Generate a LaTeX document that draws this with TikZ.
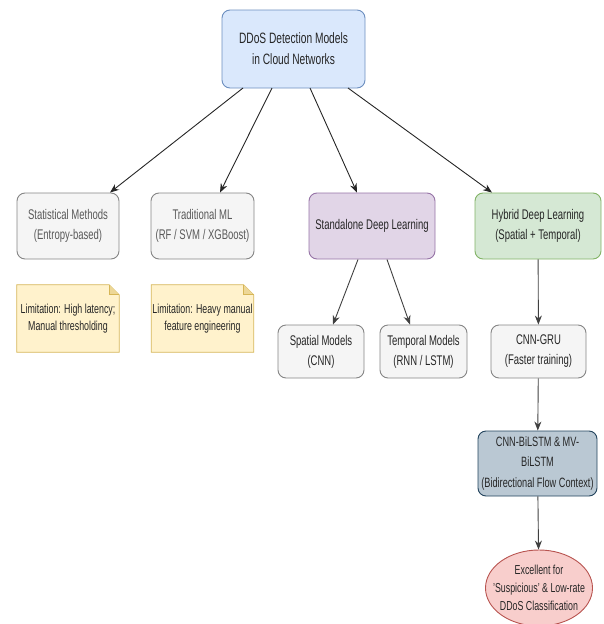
\documentclass[tikz,border=0pt]{standalone}
\usepackage{fontspec}
\setmainfont{Liberation Sans}[FakeStretch=0.68]
\usetikzlibrary{arrows.meta,shapes.geometric}
\definecolor{bluefill}{HTML}{DAE8FC}\definecolor{bluedraw}{HTML}{6C8EBF}
\definecolor{grayfill}{HTML}{F5F5F5}\definecolor{graydraw}{HTML}{666666}
\definecolor{purpfill}{HTML}{E1D5E7}\definecolor{purpdraw}{HTML}{9673A6}
\definecolor{greenfill}{HTML}{D5E8D4}\definecolor{greendraw}{HTML}{82B366}
\definecolor{notefill}{HTML}{FFF2CC}\definecolor{notedraw}{HTML}{D6B656}
\definecolor{steelfill}{HTML}{BAC8D3}\definecolor{steeldraw}{HTML}{23445D}
\definecolor{redfill}{HTML}{F8CECC}\definecolor{reddraw}{HTML}{B85450}
\begin{document}
\begin{tikzpicture}[x=1pt,y=-1pt,
  box/.style={rectangle,rounded corners=8pt,draw,line width=0.9pt,align=center,inner sep=1pt,font=\fontsize{14}{20}\selectfont,text=black!85},
  graybox/.style={box,fill=grayfill,draw=graydraw!80},
  notebox/.style={align=center,inner sep=0pt,font=\fontsize{13}{16.5}\selectfont,text=black!85,minimum width=102pt,minimum height=67pt},
  arr/.style={-{Stealth[length=9pt,width=7pt]},line width=0.9pt,draw=black!85}
]
\useasboundingbox (0,0) rectangle (603,624);

\node[box,fill=bluefill,draw=bluedraw,minimum width=143pt,minimum height=78pt,font=\fontsize{15}{21}\selectfont] (root) at (293.5,49) {DDoS Detection Models\\in Cloud Networks};

\node[graybox,minimum width=102pt,minimum height=66pt,text=black!65] (stat) at (68,226) {Statistical Methods\\(Entropy-based)};
\node[graybox,minimum width=103pt,minimum height=66pt,text=black!65] (trad) at (202.5,226) {Traditional ML\\(RF / SVM / XGBoost)};
\node[box,fill=purpfill,draw=purpdraw,minimum width=126pt,minimum height=66pt] (stand) at (372,226) {Standalone Deep Learning};
\node[box,fill=greenfill,draw=greendraw,minimum width=126pt,minimum height=66pt] (hyb) at (538,226) {Hybrid Deep Learning\\(Spatial + Temporal)};

% notes
\node[notebox] (lim1) at (68,318.5) {};
\node[notebox] (lim2) at (202.5,318.5) {};
\foreach \n in {lim1,lim2}{
  \draw[fill=notefill,draw=notedraw,line width=0.8pt]
    (\n.north west) -- ([xshift=-10pt]\n.north east) -- ([yshift=-10pt]\n.north east) -- (\n.south east) -- (\n.south west) -- cycle;
  \draw[fill=notedraw!45!notefill,draw=notedraw,line width=0.8pt]
    ([xshift=-10pt]\n.north east) -- ([xshift=-10pt,yshift=-10pt]\n.north east) -- ([yshift=-10pt]\n.north east);
}
\node[notebox] (lim1t) at (lim1) {Limitation: High latency;\\Manual thresholding};
\node[notebox] (lim2t) at (lim2) {Limitation: Heavy manual\\feature engineering};

\node[graybox,minimum width=86pt,minimum height=53pt] (spat) at (321,351.5) {Spatial Models\\(CNN)};
\node[graybox,minimum width=87pt,minimum height=53pt] (temp) at (423.5,351.5) {Temporal Models\\(RNN / LSTM)};
\node[graybox,minimum width=95pt,minimum height=53pt] (gru) at (538.5,351.5) {CNN-GRU\\(Faster training)};
\node[box,fill=steelfill,draw=steeldraw,minimum width=119pt,minimum height=65pt,font=\fontsize{13.5}{20.5}\selectfont] (bil) at (537.5,463.5) {CNN-BiLSTM \& MV-\\BiLSTM\\(Bidirectional Flow Context)};
\node[ellipse,fill=redfill,draw=reddraw,line width=0.9pt,minimum width=107pt,minimum height=76pt,inner sep=0pt] (exc) at (539,588) {};
\node[align=center,inner sep=0pt,font=\fontsize{13}{18}\selectfont,text=black!85] (exct) at (exc) {Excellent for\\'Suspicious' \& Low-rate\\DDoS Classification};

\coordinate (r1) at (243,88); \coordinate (r2) at (272,88);
\coordinate (r3) at (310,88); \coordinate (r4) at (348,88);
\draw[arr] (r1) -- (stat.north -| 110,0);
\draw[arr] (r2) -- (trad.north -| 220,0);
\draw[arr] (r3) -- (stand.north -| 357,0);
\draw[arr] (r4) -- (hyb.north -| 492,0);
\draw[arr,draw=black!75] (stand.south -| 358,0) -- (spat.north -| 333,0);
\draw[arr,draw=black!75] (stand.south -| 387,0) -- (temp.north -| 410,0);
\draw[arr,draw=black!75] (hyb) -- (gru);
\draw[arr,draw=black!75] (gru) -- (bil);
\draw[arr,draw=black!75] (bil) -- (exc);
\end{tikzpicture}
\end{document}
